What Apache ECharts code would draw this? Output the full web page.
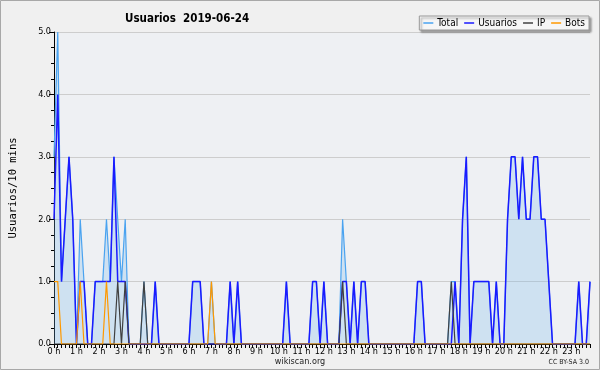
<!DOCTYPE html>
<html>
<head>
<meta charset="utf-8">
<script src="https://cdn.jsdelivr.net/npm/echarts@6/dist/echarts.min.js"></script>
<style>
html,body{margin:0;padding:0;background:#f0f0f0;}
#c{width:600px;height:370px;}
</style>
</head>
<body>
<div id="c"></div>
<script>
var titleText = 'Usuarios  2019-06-24';
var hourLabels = ['0 h','1 h','2 h','3 h','4 h','5 h','6 h','7 h','8 h','9 h','10 h','11 h',
  '12 h','13 h','14 h','15 h','16 h','17 h','18 h','19 h','20 h','21 h','22 h','23 h'];
var seriesNames = ['Total','Usuarios','IP','Bots'];

var total = [
  3,5,1,2,3,2,0,2,1,0,0,1,
  1,1,2,1,3,2,1,2,0,0,0,0,
  1,0,0,1,0,0,0,0,0,0,0,0,
  0,1,1,1,0,0,1,0,0,0,0,1,
  0,1,0,0,0,0,0,0,0,0,0,0,
  0,0,1,0,0,0,0,0,0,1,1,0,
  1,0,0,0,0,2,1,0,1,0,1,1,
  0,0,0,0,0,0,0,0,0,0,0,0,
  0,1,1,0,0,0,0,0,0,0,1,1,
  0,2,3,0,1,1,1,1,1,0,1,0,
  0,2,3,3,2,3,2,2,3,3,2,2,
  1,0,0,0,0,0,0,0,1,0,0,1
];
var usuarios = [
  2,4,1,2,3,2,0,1,1,0,0,1,
  1,1,1,1,3,1,1,1,0,0,0,0,
  0,0,0,1,0,0,0,0,0,0,0,0,
  0,1,1,1,0,0,0,0,0,0,0,1,
  0,1,0,0,0,0,0,0,0,0,0,0,
  0,0,1,0,0,0,0,0,0,1,1,0,
  1,0,0,0,0,1,1,0,1,0,1,1,
  0,0,0,0,0,0,0,0,0,0,0,0,
  0,1,1,0,0,0,0,0,0,0,0,1,
  0,2,3,0,1,1,1,1,1,0,1,0,
  0,2,3,3,2,3,2,2,3,3,2,2,
  1,0,0,0,0,0,0,0,1,0,0,1
];
var ip = [
  0,0,0,0,0,0,0,0,0,0,0,0,
  0,0,0,0,0,1,0,1,0,0,0,0,
  1,0,0,0,0,0,0,0,0,0,0,0,
  0,0,0,0,0,0,0,0,0,0,0,0,
  0,0,0,0,0,0,0,0,0,0,0,0,
  0,0,0,0,0,0,0,0,0,0,0,0,
  0,0,0,0,0,1,0,0,0,0,0,0,
  0,0,0,0,0,0,0,0,0,0,0,0,
  0,0,0,0,0,0,0,0,0,0,1,0,
  0,0,0,0,0,0,0,0,0,0,0,0,
  0,0,0,0,0,0,0,0,0,0,0,0,
  0,0,0,0,0,0,0,0,0,0,0,0
];
var bots = [
  1,1,0,0,0,0,0,1,0,0,0,0,
  0,0,1,0,0,0,0,0,0,0,0,0,
  0,0,0,0,0,0,0,0,0,0,0,0,
  0,0,0,0,0,0,1,0,0,0,0,0,
  0,0,0,0,0,0,0,0,0,0,0,0,
  0,0,0,0,0,0,0,0,0,0,0,0,
  0,0,0,0,0,0,0,0,0,0,0,0,
  0,0,0,0,0,0,0,0,0,0,0,0,
  0,0,0,0,0,0,0,0,0,0,0,0,
  0,0,0,0,0,0,0,0,0,0,0,0,
  0,0,0,0,0,0,0,0,0,0,0,0,
  0,0,0,0,0,0,0,0,0,0,0,0
];

// categories: 6 ten-minute slots per hour, label only on the hour
var categories = [];
hourLabels.forEach(function(h){
  for (var k = 0; k < 6; k++) categories.push(k === 0 ? h : '');
});

var FONT = '"DejaVu Sans Condensed", "DejaVu Sans"';
var chart = echarts.init(document.getElementById('c'), null, {renderer:'canvas'});
chart.setOption({
  backgroundColor: '#f0f0f0',
  animation: false,
  title: {
    text: titleText, left: 120, top: 8,
    textStyle: {fontFamily: FONT, fontSize: 11.5, fontWeight: 'bold', color: '#000'}
  },
  legend: {
    data: seriesNames, right: 11, top: 16, icon: 'rect', itemWidth: 10, itemHeight: 1.5,
    itemGap: 6, padding: [2, 4],
    backgroundColor: '#f6f6f6', borderColor: '#999', borderWidth: 1,
    shadowColor: 'rgba(0,0,0,0.35)', shadowOffsetX: 2, shadowOffsetY: 2, shadowBlur: 2,
    textStyle: {fontFamily: FONT, fontSize: 10, color: '#000', padding: [0,0,0,-1]}
  },
  grid: {left: 46, right: 10, top: 32, bottom: 26, show: true, backgroundColor: '#eef0f3', borderWidth: 0},
  xAxis: {
    type: 'category', boundaryGap: false, data: categories,
    axisLine: {lineStyle: {color: '#000', width: 1}},
    axisTick: {show: true, interval: 0, length: 4, lineStyle: {color: '#000'}},
    axisLabel: {interval: 5, fontFamily: FONT, fontSize: 9, color: '#000', margin: 3},
    splitLine: {show: false}
  },
  yAxis: {
    type: 'value', min: 0, max: 5, interval: 1,
    name: 'Usuarios/10 mins', nameLocation: 'middle', nameRotate: 90, nameGap: 35,
    nameTextStyle: {fontFamily: 'DejaVu Sans Mono', fontSize: 10.5, color: '#000'},
    axisLine: {show: true, lineStyle: {color: '#000', width: 1}},
    axisTick: {show: true, length: 5, lineStyle: {color: '#000'}},
    minorTick: {show: true, splitNumber: 4, length: 3, lineStyle: {color: '#000'}},
    axisLabel: {fontFamily: FONT, fontSize: 9, color: '#000', margin: 3,
      formatter: function(v){ return v.toFixed(1); }},
    splitLine: {lineStyle: {color: '#cdcdcd', width: 1}}
  },
  series: [
    {name: 'Total', type: 'line', data: total, showSymbol: false, symbol: 'none',
      color: '#4aa3f0', lineStyle: {color: '#4aa3f0', width: 1.2},
      areaStyle: {color: 'rgba(120,185,235,0.38)'}, z: 1},
    {name: 'Usuarios', type: 'line', data: usuarios, showSymbol: false, symbol: 'none',
      color: '#1a1aff', lineStyle: {color: '#1a1aff', width: 1.5}, z: 2},
    {name: 'IP', type: 'line', data: ip, showSymbol: false, symbol: 'none',
      color: '#404040', lineStyle: {color: '#404040', width: 1.2}, z: 3},
    {name: 'Bots', type: 'line', data: bots, showSymbol: false, symbol: 'none',
      color: '#ff9900', lineStyle: {color: '#ff9900', width: 1.2}, z: 4}
  ],
  graphic: [
    {type: 'rect', shape: {x: 0.5, y: 0.5, width: 599, height: 369},
      style: {fill: 'none', stroke: '#a8a8a8', lineWidth: 1}, silent: true},
    {type: 'text', left: 'center', top: 357,
      style: {text: 'wikiscan.org', fontFamily: FONT, fontSize: 9, fill: '#222'}},
    {type: 'text', right: 11, top: 359,
      style: {text: 'CC BY-SA 3.0', fontFamily: FONT, fontSize: 7, fill: '#222'}}
  ]
});
</script>
</body>
</html>
